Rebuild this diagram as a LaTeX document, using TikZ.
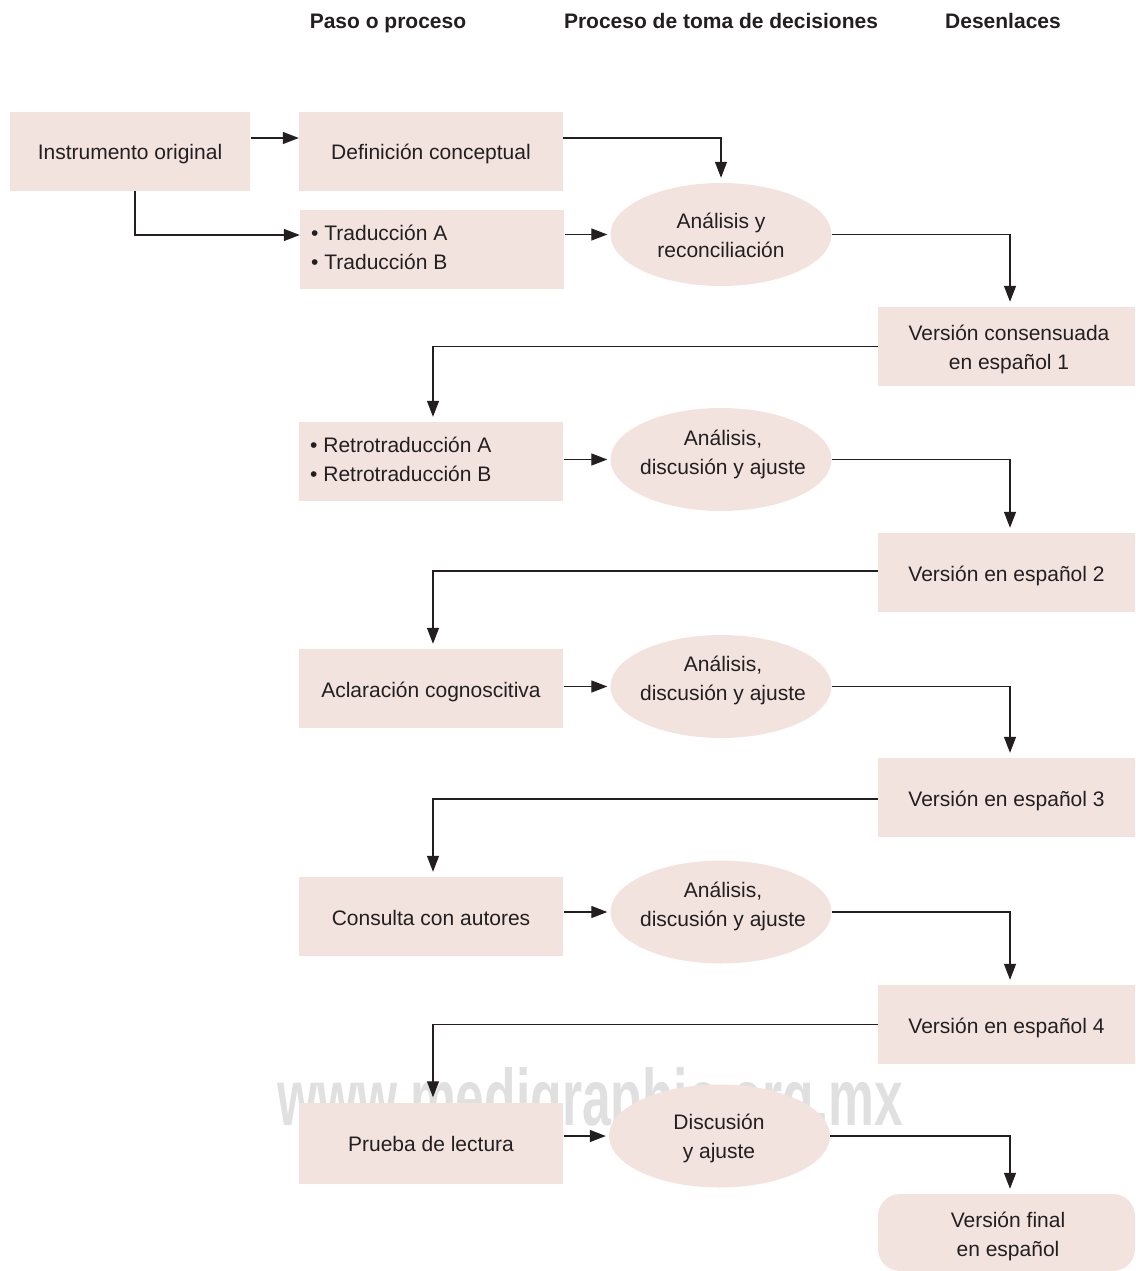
\documentclass[tikz,border=0pt]{standalone}
\usepackage{fontspec}
\setmainfont{Liberation Sans}
\usetikzlibrary{shapes.geometric,arrows.meta,calc}
\definecolor{boxfill}{HTML}{F3E3DF}
\definecolor{ink}{HTML}{231F20}
\definecolor{wmgray}{HTML}{E0E0E0}
\begin{document}
\begin{tikzpicture}[x=1pt,y=-1pt,
  txt/.style={font=\fontsize{21}{29}\selectfont, text=ink, inner sep=0pt},
  stepbox/.style={txt, fill=boxfill, draw=none, minimum width=264pt, minimum height=79pt, inner sep=0pt, align=center, text height=20pt, text depth=3pt},
  outbox/.style={stepbox, minimum width=257pt},
  decision/.style={ellipse, fill=boxfill, draw=none, minimum width=221pt, minimum height=103pt, inner sep=0pt},
  label2/.style={txt, align=center},
  list2/.style={txt, align=left, anchor=west},
  header/.style={font=\fontsize{21}{25}\selectfont\bfseries, text=ink, inner sep=0pt, anchor=base},
  conn/.style={draw=ink, line width=1.3pt, -{Triangle[length=16pt,width=12pt]}},
]
\useasboundingbox (0,0) rectangle (1135,1271);

% watermark
\node[anchor=base west, inner sep=0pt, text=wmgray] (wm) at (277,1125)
  {\scalebox{0.645}[1]{\fontsize{80}{80}\selectfont\bfseries www.medigraphic.org.mx}};

% headers
\node[header] (h1) at (388,29) {Paso o proceso};
\node[header] (h2) at (721,29) {Proceso de toma de decisiones};
\node[header] (h3) at (1003,29) {Desenlaces};

% step column
\node[stepbox, minimum width=240pt] (io) at (130,151.5) {Instrumento original};
\node[stepbox] (dc) at (431,151.5) {Definición conceptual};
\node[stepbox] (tr) at (432,249.5) {};
\node[list2] (trt) at (311,247) {• Traducción A\\• Traducción B};
\node[stepbox] (rt) at (431,461.5) {};
\node[list2] (rtt) at (310,459.5) {• Retrotraducción A\\• Retrotraducción B};
\node[stepbox] (ac) at (431,688.5) {Aclaración cognoscitiva};
\node[stepbox] (cs) at (431,916.5) {Consulta con autores};
\node[stepbox, minimum height=81pt] (pl) at (431,1143) {Prueba de lectura};

% decisions
\node[decision] (e1) at (721,234.5) {};
\node[label2] (e1t) at (721,235.5) {Análisis y\\reconciliación};
\node[decision] (e2) at (721,459.5) {};
\node[label2] (e2t) at (723,454) {Análisis,\\discusión y ajuste};
\node[decision] (e3) at (721,686.5) {};
\node[label2] (e3t) at (723,680) {Análisis,\\discusión y ajuste};
\node[decision] (e4) at (721,912) {};
\node[label2] (e4t) at (723,906) {Análisis,\\discusión y ajuste};
\node[decision] (e5) at (719.5,1136) {};
\node[label2] (e5t) at (719,1138) {Discusión\\y ajuste};

% outcomes
\node[outbox] (v1) at (1006.5,346.5) {};
\node[label2] (v1t) at (1009,349.5) {Versión consensuada\\en español 1};
\node[outbox] (v2) at (1006.5,572.5) {Versión en español 2};
\node[outbox] (v3) at (1006.5,797.5) {Versión en español 3};
\node[outbox] (v4) at (1006.5,1024.5) {Versión en español 4};
\node[outbox, minimum height=77pt, rounded corners=22pt] (vf) at (1006.5,1232.5) {};
\node[label2] (vft) at (1008,1236) {Versión final\\en español};

% connectors
\draw[conn, shorten <=1pt] ([yshift=13.5pt]io.east) -- ([yshift=13.5pt]dc.west);
\draw[conn] ([xshift=5pt]io.south) |- ([yshift=14.5pt]tr.west);
\draw[conn, shorten >=5pt] ([yshift=13.5pt]dc.east) -| (e1.north);
\draw[conn, shorten >=3pt, shorten <=1pt] (tr.east |- e1.west) -- (e1.west);
\draw[conn, shorten >=5pt] (e1.east) -| ([xshift=3.5pt]v1.north);
\draw[conn, shorten >=5pt] (v1.west) -| ([xshift=2pt]rt.north);
\draw[conn, shorten >=3pt, shorten <=1pt] (rt.east |- e2.west) -- (e2.west);
\draw[conn, shorten >=5pt] (e2.east) -| ([xshift=3.5pt]v2.north);
\draw[conn, shorten >=5pt] ([yshift=1.5pt]v2.west) -| ([xshift=2pt]ac.north);
\draw[conn, shorten >=3pt, shorten <=1pt] (ac.east |- e3.west) -- (e3.west);
\draw[conn, shorten >=5pt] (e3.east) -| ([xshift=3.5pt]v3.north);
\draw[conn, shorten >=5pt] ([yshift=-1.5pt]v3.west) -| ([xshift=2pt]cs.north);
\draw[conn, shorten >=3pt, shorten <=1pt] (cs.east |- e4.west) -- (e4.west);
\draw[conn, shorten >=5pt] (e4.east) -| ([xshift=3.5pt]v4.north);
\draw[conn, shorten >=5pt] (v4.west) -| ([xshift=2pt]pl.north);
\draw[conn, shorten >=3pt, shorten <=1pt] (pl.east |- e5.west) -- (e5.west);
\draw[conn, shorten >=5pt] (e5.east) -| ([xshift=3.5pt]vf.north);
\end{tikzpicture}
\end{document}
